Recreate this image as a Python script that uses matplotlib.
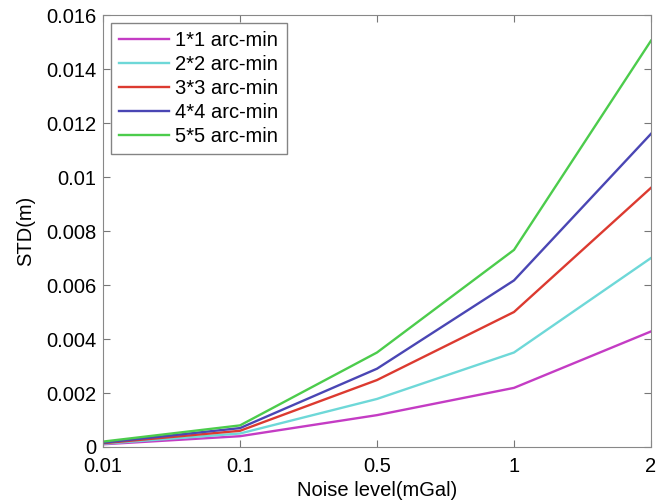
import numpy as np
import matplotlib
matplotlib.use('Agg')
import matplotlib.pyplot as plt

plt.rcParams['font.family'] = ['Liberation Sans', 'DejaVu Sans']

noise_levels = ['0.01', '0.1', '0.5', '1', '2']
labels = ['1*1 arc-min', '2*2 arc-min', '3*3 arc-min', '4*4 arc-min', '5*5 arc-min']
std_1x1 = [0.00010, 0.00040, 0.00118, 0.00219, 0.00428]
std_2x2 = [0.00012, 0.00050, 0.00178, 0.00350, 0.00700]
std_3x3 = [0.00014, 0.00060, 0.00248, 0.00500, 0.00960]
std_4x4 = [0.00016, 0.00070, 0.00290, 0.00617, 0.01160]
std_5x5 = [0.00020, 0.00080, 0.00350, 0.00730, 0.01505]
colors = ['#c43cc4', '#6ed8d8', '#dc3a30', '#4a46b4', '#4ccc4c']


def plot_std(output_path):
    fig = plt.figure(figsize=(6.67, 5.04), dpi=100)
    ax = fig.add_axes([0.1544, 0.1131, 0.8216, 0.8571])
    x = np.arange(len(noise_levels))
    for ys, c, lab in zip([std_1x1, std_2x2, std_3x3, std_4x4, std_5x5], colors, labels):
        ax.plot(x, ys, color=c, lw=1.7, label=lab)

    ax.set_xlim(0, len(noise_levels) - 1)
    ax.set_ylim(0, 0.016)
    ax.set_xticks(x)
    ax.set_xticklabels(noise_levels)
    ax.set_yticks(np.arange(0, 0.0161, 0.002))
    ax.set_yticklabels(['0', '0.002', '0.004', '0.006', '0.008', '0.01',
                        '0.012', '0.014', '0.016'])
    ax.tick_params(direction='in', top=True, right=True, labelsize=14.5,
                   color='#777777', length=5)
    ax.tick_params(axis='x', pad=7)
    ax.tick_params(axis='y', pad=5)
    for s in ax.spines.values():
        s.set_color('#888888')
    ax.set_xlabel('Noise level(mGal)', fontsize=14.5, labelpad=4)
    ax.set_ylabel('STD(m)', fontsize=14.5, labelpad=8)

    leg = ax.legend(loc='upper left', fontsize=14.5, fancybox=False,
                    handlelength=2.5, handletextpad=0.3, labelspacing=0.25,
                    borderaxespad=0.4, borderpad=0.4)
    leg.get_frame().set_edgecolor('#666666')
    leg.get_frame().set_linewidth(1.0)

    fig.savefig(output_path)


if __name__ == '__main__':
    plot_std('out.png')
